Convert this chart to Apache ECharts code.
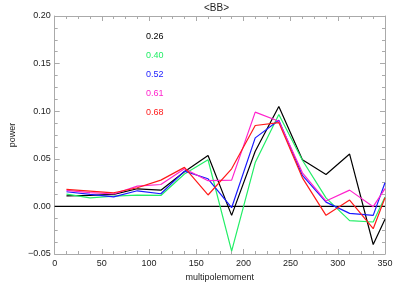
<!DOCTYPE html>
<html>
<head>
<meta charset="utf-8">
<script src="https://cdn.jsdelivr.net/npm/echarts@6/dist/echarts.min.js"></script>
<style>html,body{margin:0;padding:0;background:#fff}#c{width:415px;height:293px}</style>
</head>
<body>
<div id="c"></div>
<script>
var multipoles = [12.5, 37.5, 62.5, 87.5, 112.5, 137.5, 162.5, 187.5, 212.5, 237.5, 262.5, 287.5, 312.5, 337.5, 350];
var labels = ['0.26', '0.40', '0.52', '0.61', '0.68'];
var colors = ['#000000', '#22ee66', '#1a1aff', '#ff22cc', '#ff1a1a'];
var s026 = [0.011, 0.0115, 0.0126, 0.0185, 0.017, 0.0364, 0.0535, -0.0094, 0.058, 0.105, 0.049, 0.0335, 0.055, -0.040, -0.0136];
var s040 = [0.0128, 0.009, 0.0108, 0.0118, 0.0115, 0.034, 0.049, -0.047, 0.046, 0.0965, 0.0485, 0.009, -0.015, -0.0164, 0.010];
var s052 = [0.0154, 0.0126, 0.010, 0.0164, 0.0133, 0.037, 0.029, -0.0014, 0.072, 0.0905, 0.0325, 0.0045, -0.0073, -0.0094, 0.0248];
var s061 = [0.0168, 0.0145, 0.013, 0.0213, 0.023, 0.0395, 0.027, 0.0276, 0.099, 0.0895, 0.0353, 0.0056, 0.0171, -0.0003, 0.0186];
var s068 = [0.0178, 0.016, 0.0143, 0.0196, 0.0276, 0.041, 0.012, 0.0395, 0.085, 0.088, 0.030, -0.0094, 0.0066, -0.0234, 0.009];
var allSeries = [s026, s040, s052, s061, s068];
var xTicks = [0, 50, 100, 150, 200, 250, 300, 350];
var yTicks = [-0.05, 0.00, 0.05, 0.10, 0.15, 0.20];

var FONT = 'Liberation Sans';
var axisGray = '#aaaaaa';
function pairs(v) { return multipoles.map(function (x, i) { return [x, v[i]]; }); }
function fmtY(v) { var s = Math.abs(v).toFixed(2); return v < -1e-9 ? '\u2212' + s : s; }

var series = allSeries.map(function (v, i) {
  return {
    type: 'line', data: pairs(v), showSymbol: false, symbol: 'none',
    lineStyle: { color: colors[i], width: 1.2 }, itemStyle: { color: colors[i] },
    animation: false, z: 3 + i
  };
});
series.push({
  type: 'line', data: [[xTicks[0], 0], [xTicks[xTicks.length - 1], 0]], symbol: 'none',
  lineStyle: { color: '#000', width: 1.4 }, animation: false, z: 2
});

var graphics = labels.map(function (t, i) {
  return {
    type: 'text', left: 146, top: 32 + i * 19,
    style: { text: t, fill: colors[i], font: '9px ' + FONT }
  };
});
graphics.push({
  type: 'text', left: 204, top: 3,
  style: { text: '<BB>', fill: '#222', font: '10px ' + FONT }
});

var commonTick = { show: true, inside: true, length: 5, lineStyle: { color: axisGray } };
var commonMinor = { show: true, splitNumber: 4, length: 3, lineStyle: { color: axisGray } };

var option = {
  backgroundColor: '#fff',
  animation: false,
  grid: { left: 49, right: 30, top: 16, bottom: 39, show: false },
  graphic: graphics,
  xAxis: [{
    type: 'value', min: 0, max: 350, interval: 50,
    name: 'multipolemoment', nameLocation: 'middle', nameGap: 14,
    nameTextStyle: { fontFamily: FONT, fontSize: 9, color: '#222' },
    axisLine: { show: true, onZero: false, lineStyle: { color: axisGray } },
    axisTick: commonTick, minorTick: commonMinor,
    axisLabel: { fontFamily: FONT, fontSize: 9, color: '#222', margin: 5 },
    splitLine: { show: false }
  }, {
    type: 'value', min: 0, max: 350, interval: 50, position: 'top',
    axisLine: { show: true, onZero: false, lineStyle: { color: axisGray } },
    axisTick: commonTick, minorTick: commonMinor,
    axisLabel: { show: false }, splitLine: { show: false }
  }],
  yAxis: [{
    type: 'value', min: -0.05, max: 0.2, interval: 0.05,
    name: 'power', nameLocation: 'middle', nameGap: 32, nameRotate: 90,
    nameTextStyle: { fontFamily: FONT, fontSize: 9, color: '#222' },
    axisLine: { show: true, onZero: false, lineStyle: { color: axisGray } },
    axisTick: commonTick, minorTick: commonMinor,
    axisLabel: { fontFamily: FONT, fontSize: 9, color: '#222', margin: 4, formatter: fmtY },
    splitLine: { show: false }
  }, {
    type: 'value', min: -0.05, max: 0.2, interval: 0.05, position: 'right',
    axisLine: { show: true, onZero: false, lineStyle: { color: axisGray } },
    axisTick: commonTick, minorTick: commonMinor,
    axisLabel: { show: false }, splitLine: { show: false }
  }],
  series: series
};
var chart = echarts.init(document.getElementById('c'), null, { renderer: 'canvas' });
chart.setOption(option);
</script>
</body>
</html>
